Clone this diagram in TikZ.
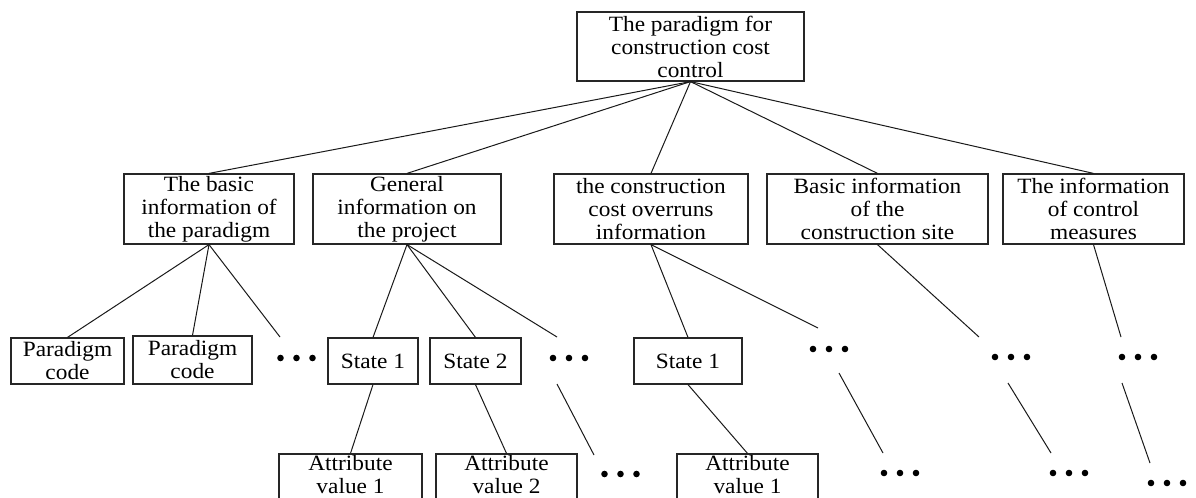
\documentclass[tikz,border=0pt]{standalone}
\usepackage{fontspec}
\setmainfont{Liberation Serif}[FakeStretch=1.07]
\begin{document}
\begin{tikzpicture}[x=0.5pt,y=-0.5pt,
  box/.style={draw=black!85, line width=0.6pt, inner sep=0pt, align=center,
    font=\fontsize{10.9}{11.5}\selectfont},
  lowbox/.style={box, minimum width=70.5pt, minimum height=24pt, text depth=3.5pt},
  conn/.style={line width=0.5pt, draw=black!90}]
\useasboundingbox (0,0) rectangle (1196,498);
% top
\node[box, minimum width=113.5pt, minimum height=34.5pt] (top) at (690.5,46.5) {The paradigm for\\construction cost\\control};
% second row
\node[box, minimum width=85pt, minimum height=35pt] (b1) at (209,209) {The basic\\information of\\the paradigm};
\node[box, minimum width=94pt, minimum height=35pt] (b2) at (407,209) {General\\information on\\the project};
\node[box, minimum width=97pt, minimum height=35pt] (b3) at (651,209) {the construction\\cost overruns\\information};
\node[box, minimum width=110.5pt, minimum height=35pt] (b4) at (877.5,209) {Basic information\\of the\\construction site};
\node[box, minimum width=90.5pt, minimum height=35pt] (b5) at (1093.5,209) {The information\\of control\\measures};
% third row
\node[box, minimum width=56.5pt, minimum height=23pt] (pc1) at (67.5,361) {Paradigm\\code};
\node[box, minimum width=59.5pt, minimum height=24pt] (pc2) at (192.5,360) {Paradigm\\code};
\node[box, minimum width=45pt, minimum height=23pt] (s1) at (373,361) {State 1};
\node[box, minimum width=45.5pt, minimum height=23pt] (s2) at (475.5,361) {State 2};
\node[box, minimum width=54pt, minimum height=23pt] (s3) at (688,361) {State 1};
% fourth row
\node[lowbox, minimum width=71.5pt] (a1) at (350.5,478) {Attribute\\value 1};
\node[lowbox] (a2) at (506.5,478) {Attribute\\value 2};
\node[lowbox] (a3) at (747.5,478) {Attribute\\value 1};
% dot groups
\foreach \n/\x/\y in {d1/296.5/358, d2/569/358, d3/620.5/474, d4/829/349, d5/900/473,
                      d6/1011/357, d7/1069/473, d8/1138/357, d9/1167/483} {
  \coordinate (\n) at (\x,\y);
  \foreach \k in {-16,0,16} \fill (\n) ++(\k,0) circle[radius=1.65pt];
}
% connector free ends
\coordinate (c1) at (280,337);
\coordinate (c2a) at (557,337);
\coordinate (c2b) at (557,384);
\coordinate (c2c) at (594,455);
\coordinate (c3a) at (818,328);
\coordinate (c3b) at (839,373);
\coordinate (c3c) at (883,453);
\coordinate (c4a) at (979,337);
\coordinate (c4b) at (1008,383);
\coordinate (c4c) at (1051,453);
\coordinate (c5a) at (1121,337);
\coordinate (c5b) at (1122,383);
\coordinate (c5c) at (1150,463);
% connectors
\foreach \b in {b1,b2,b3,b4,b5} \draw[conn] (top.south) -- (\b.north);
\draw[conn] (b1.south) -- (pc1.north);
\draw[conn] (b1.south) -- (pc2.north);
\draw[conn] (b1.south) -- (c1);
\draw[conn] (b2.south) -- (s1.north);
\draw[conn] (b2.south) -- (s2.north);
\draw[conn] (b2.south) -- (c2a);
\draw[conn] (s1.south) -- (a1.north);
\draw[conn] (s2.south) -- (a2.north);
\draw[conn] (c2b) -- (c2c);
\draw[conn] (b3.south) -- (s3.north);
\draw[conn] (b3.south) -- (c3a);
\draw[conn] (s3.south) -- (a3.north);
\draw[conn] (c3b) -- (c3c);
\draw[conn] (b4.south) -- (c4a);
\draw[conn] (c4b) -- (c4c);
\draw[conn] (b5.south) -- (c5a);
\draw[conn] (c5b) -- (c5c);
\end{tikzpicture}
\end{document}
